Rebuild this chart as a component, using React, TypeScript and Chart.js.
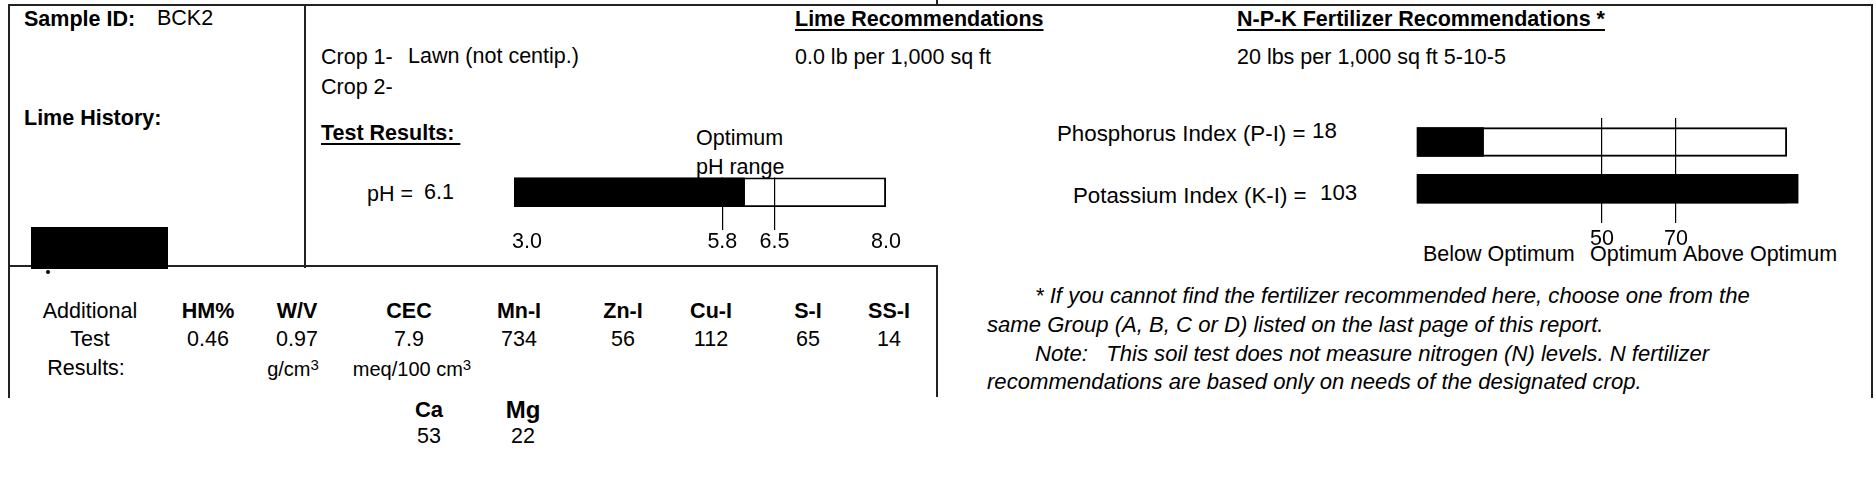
import React, { useEffect, useRef } from "react";
import { Chart, registerables } from "chart.js";

Chart.register(...registerables);

const FONT = '"Liberation Sans", Arial, Helvetica, sans-serif';
const FS = 21.5;

// ---------------- data ----------------
const sampleId = "BCK2";
const cropLabels = ["Crop 1-", "Crop 2-"];
const cropNames = ["Lawn (not centip.)", ""];
const limeRecommendation = "0.0 lb per 1,000 sq ft";
const npkRecommendation = "20 lbs per 1,000 sq ft 5-10-5";

const phValue = 6.1;
const phRange = [3.0, 8.0];
const phOptimum = [5.8, 6.5];
const phTickValues = [3.0, 5.8, 6.5, 8.0];

const indexNames = ["Phosphorus Index (P-I)", "Potassium Index (K-I)"];
const indexValues = [18, 103];
const indexRange = [0, 100];
const indexThresholds = [50, 70];
const indexZones = ["Below Optimum", "Optimum", "Above Optimum"];

const testNames = ["HM%", "W/V", "CEC", "Mn-I", "Zn-I", "Cu-I", "S-I", "SS-I"];
const testValues = ["0.46", "0.97", "7.9", "734", "56", "112", "65", "14"];
const testUnits = ["", "g/cm", "meq/100 cm", "", "", "", "", ""];
const cationNames = ["Ca", "Mg"];
const cationValues = [53, 22];

const footnotes = [
  "* If you cannot find the fertilizer recommended here, choose one from the",
  "same Group (A, B, C or D) listed on the last page of this report.",
  "Note:   This soil test does not measure nitrogen (N) levels. N fertilizer",
  "recommendations are based only on needs of the designated crop.",
];

// ---------------- layout ----------------
const testCols = [208, 297, 409, 519, 623, 711, 808, 889];
const unitCols = [0, 293, 412, 0, 0, 0, 0, 0];
const cationCols = [429, 523];
const footX = [1035, 987, 1035, 987];
const footY = [304, 333, 362, 390];
const indexLabelX = [1057, 1073];
const indexLabelY = [142, 203.5];
const indexValueX = [1312, 1320];
const indexValueY = [139, 200.5];
const zoneX = [1423, 1590, 1683];

type TP = {
  x: number;
  y: number;
  s?: number;
  b?: boolean;
  i?: boolean;
  c?: boolean;
  u?: boolean;
  children?: React.ReactNode;
};

function T({ x, y, s = FS, b, i, c, u, children }: TP) {
  return (
    <div
      style={{
        position: "absolute",
        left: x,
        top: y - 0.8465 * s,
        fontSize: s,
        lineHeight: `${s}px`,
        fontFamily: FONT,
        fontWeight: b ? 700 : 400,
        fontStyle: i ? "italic" : "normal",
        whiteSpace: "pre",
        color: "#000",
        transform: c ? "translateX(-50%)" : undefined,
        textDecoration: u ? "underline" : undefined,
        textDecorationThickness: u ? "2px" : undefined,
        textUnderlineOffset: u ? "3px" : undefined,
      }}
    >
      {children}
    </div>
  );
}

function Line({ x, y, w, h }: { x: number; y: number; w: number; h: number }) {
  return <div style={{ position: "absolute", left: x, top: y, width: w, height: h, background: "#222" }} />;
}

function PhChart() {
  const ref = useRef<HTMLCanvasElement>(null);
  useEffect(() => {
    if (!ref.current) return;
    const labelsPlugin = {
      id: "phLabels",
      afterDraw(chart: any) {
        const ctx = chart.ctx;
        const sx = chart.scales.x;
        ctx.save();
        ctx.font = `${FS}px ${FONT}`;
        ctx.fillStyle = "#000";
        ctx.textBaseline = "alphabetic";
        phTickValues.forEach((v, i) => {
          ctx.textAlign = i === 0 ? "left" : "center";
          ctx.fillText(v.toFixed(1), sx.getPixelForValue(v) - (i === 0 ? 2 : 0), 148);
        });
        ctx.restore();
      },
    };
    const chart = new Chart(ref.current, {
      type: "bar",
      data: {
        labels: ["pH"],
        datasets: [
          {
            data: [[phRange[0], phValue]] as any,
            backgroundColor: "#000",
            borderWidth: 0,
            grouped: false,
            order: 0,
            barPercentage: 1,
            categoryPercentage: 1,
          },
          {
            data: [[phRange[0], phRange[1]]] as any,
            backgroundColor: "rgba(0,0,0,0)",
            borderColor: "#000",
            borderWidth: 1.5,
            borderSkipped: false,
            grouped: false,
            order: 1,
            barPercentage: 1,
            categoryPercentage: 1,
          },
        ],
      },
      options: {
        indexAxis: "y",
        responsive: false,
        animation: false,
        events: [],
        layout: { padding: { left: 44, right: 44, top: 77.5, bottom: 63 } },
        plugins: { legend: { display: false }, tooltip: { enabled: false } },
        scales: {
          y: { display: false },
          x: {
            type: "linear",
            min: phRange[0],
            max: phRange[1],
            afterBuildTicks: (s: any) => {
              s.ticks = phOptimum.map((v) => ({ value: v }));
            },
            afterFit: (s: any) => {
              s.height = 0;
            },
            ticks: { display: false },
            border: { display: false },
            grid: { color: "#000", lineWidth: 1.2, tickLength: 23, drawOnChartArea: true, drawTicks: true },
          },
        },
      } as any,
      plugins: [labelsPlugin],
    });
    return () => chart.destroy();
  }, []);
  return (
    <canvas
      ref={ref}
      width={460}
      height={170}
      style={{ position: "absolute", left: 470, top: 100, width: 460, height: 170 }}
    />
  );
}

function IndexChart() {
  const ref = useRef<HTMLCanvasElement>(null);
  useEffect(() => {
    if (!ref.current) return;
    const labelsPlugin = {
      id: "idxLabels",
      afterDraw(chart: any) {
        const ctx = chart.ctx;
        const sx = chart.scales.x;
        ctx.save();
        ctx.font = `${FS}px ${FONT}`;
        ctx.fillStyle = "#000";
        ctx.textBaseline = "alphabetic";
        ctx.textAlign = "center";
        indexThresholds.forEach((v) => {
          ctx.fillText(String(v), sx.getPixelForValue(v), 145);
        });
        ctx.restore();
      },
    };
    const chart = new Chart(ref.current, {
      type: "bar",
      data: {
        datasets: [
          {
            data: indexValues.map((v, i) => ({ x: [indexRange[0], v], y: i })) as any,
            backgroundColor: "#000",
            borderWidth: 0,
            barThickness: 29,
            grouped: false,
            clip: false,
            order: 0,
          },
          {
            data: indexValues.map((_, i) => ({ x: [indexRange[0], indexRange[1]], y: i })) as any,
            backgroundColor: "rgba(0,0,0,0)",
            borderColor: "#000",
            borderWidth: 1.5,
            borderSkipped: false,
            barThickness: 29,
            grouped: false,
            order: 1,
          },
        ],
      },
      options: {
        indexAxis: "y",
        responsive: false,
        animation: false,
        events: [],
        layout: { padding: { left: 37, right: 73, top: 18, bottom: 70 } },
        plugins: { legend: { display: false }, tooltip: { enabled: false } },
        scales: {
          y: { type: "linear", display: false, reverse: true, min: -0.316, max: 1.257 },
          x: {
            type: "linear",
            min: indexRange[0],
            max: indexRange[1],
            afterBuildTicks: (s: any) => {
              s.ticks = indexThresholds.map((v) => ({ value: v }));
            },
            afterFit: (s: any) => {
              s.height = 0;
            },
            ticks: { display: false },
            border: { display: false },
            grid: { color: "#000", lineWidth: 1.2, tickLength: 13, drawOnChartArea: true, drawTicks: true },
          },
        },
      } as any,
      plugins: [labelsPlugin],
    });
    return () => chart.destroy();
  }, []);
  return (
    <canvas
      ref={ref}
      width={480}
      height={180}
      style={{ position: "absolute", left: 1380, top: 100, width: 480, height: 180 }}
    />
  );
}

export default function App() {
  return (
    <div
      style={{
        position: "fixed",
        left: 0,
        top: 0,
        width: 1876,
        height: 490,
        background: "#fff",
        overflow: "hidden",
      }}
    >
      {/* frame */}
      <Line x={8} y={3.5} w={1865} h={2} />
      <Line x={936} y={0} w={2} h={4} />
      <Line x={8} y={3.5} w={2} h={394} />
      <Line x={304} y={3.5} w={2} h={264} />
      <Line x={8} y={265} w={930} h={2} />
      <Line x={936} y={265} w={2} h={132} />
      <Line x={1871} y={3.5} w={2} h={394} />

      {/* redacted block */}
      <div style={{ position: "absolute", left: 31, top: 227, width: 137, height: 42, background: "#000" }} />
      <div style={{ position: "absolute", left: 46, top: 270, width: 4, height: 4, borderRadius: 2, background: "#000" }} />

      {/* left column */}
      <T x={24} y={27} b>Sample ID:</T>
      <T x={157} y={26}>{sampleId}</T>
      <T x={24} y={126} b>Lime History:</T>

      {/* middle column */}
      <T x={321} y={65}>{cropLabels[0]}</T>
      <T x={408} y={64.5}>{cropNames[0]}</T>
      <T x={321} y={95}>{cropLabels[1]}</T>
      <T x={408} y={95}>{cropNames[1]}</T>
      <T x={321} y={141} b u>{"Test Results: "}</T>
      <T x={696} y={146}>Optimum</T>
      <T x={696} y={175}>pH range</T>
      <T x={367} y={202}>pH =</T>
      <T x={424} y={200}>{phValue.toFixed(1)}</T>

      <T x={795} y={27} b u>Lime Recommendations</T>
      <T x={795} y={65}>{limeRecommendation}</T>
      <T x={1237} y={27} b u>N-P-K Fertilizer Recommendations *</T>
      <T x={1237} y={65}>{npkRecommendation}</T>

      {/* P / K labels */}
      {indexNames.map((n, i) => (
        <React.Fragment key={n}>
          <T x={indexLabelX[i]} y={indexLabelY[i]} s={22.3}>{`${n} =`}</T>
          <T x={indexValueX[i]} y={indexValueY[i]} s={22.3}>{String(indexValues[i])}</T>
        </React.Fragment>
      ))}
      {indexZones.map((z, i) => (
        <T key={z + i} x={zoneX[i]} y={262}>{z}</T>
      ))}

      {/* additional tests */}
      <T x={90} y={319} c>Additional</T>
      <T x={90} y={347} c>Test</T>
      <T x={86} y={376} c>Results:</T>
      {testNames.map((n, i) => (
        <React.Fragment key={n}>
          <T x={testCols[i]} y={319} c b>{n}</T>
          <T x={testCols[i]} y={347} c>{testValues[i]}</T>
          {testUnits[i] ? (
            <T x={unitCols[i]} y={376} c s={20}>
              {testUnits[i]}
              <span style={{ fontSize: 15, position: "relative", top: -6 }}>3</span>
            </T>
          ) : null}
        </React.Fragment>
      ))}
      {cationNames.map((n, i) => (
        <React.Fragment key={n}>
          <T x={cationCols[i]} y={418} c b s={i === 1 ? 24 : 22}>{n}</T>
          <T x={cationCols[i]} y={444} c>{String(cationValues[i])}</T>
        </React.Fragment>
      ))}

      {/* footnotes */}
      {footnotes.map((f, i) => (
        <T key={i} x={footX[i]} y={footY[i]} i s={22.1}>{f}</T>
      ))}

      <PhChart />
      <IndexChart />
    </div>
  );
}
